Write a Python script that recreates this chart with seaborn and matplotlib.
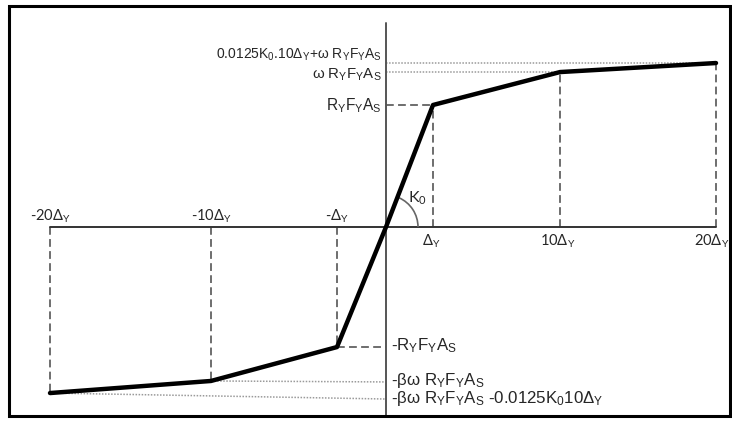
import numpy as np
import pandas as pd
import matplotlib
matplotlib.use("Agg")
import matplotlib.pyplot as plt
import seaborn as sns
from matplotlib.patches import Arc, Rectangle
from matplotlib.transforms import IdentityTransform

# ---------------- data (schematic backbone curve) ----------------
disp = [-20, -10, -1, 0, 1, 10, 20]                    # multiples of Delta_Y
force = [-1.361, -1.262, -0.984, 0.0, 1.0, 1.27, 1.344]  # in units of R_Y F_Y A_S
tick_labels = ["-20Δ$_Y$", "-10Δ$_Y$", "-Δ$_Y$", "", "Δ$_Y$", "10Δ$_Y$", "20Δ$_Y$"]
pos_levels = [1.344, 1.27, 1.0]
pos_level_labels = ["0.0125K$_0$.10Δ$_Y$+ω R$_Y$F$_Y$A$_S$", "ω R$_Y$F$_Y$A$_S$", "R$_Y$F$_Y$A$_S$"]
neg_levels = [-0.984, -1.27, -1.41]
neg_level_labels = ["-R$_Y$F$_Y$A$_S$", "-βω R$_Y$F$_Y$A$_S$", "-βω R$_Y$F$_Y$A$_S$ -0.0125K$_0$10Δ$_Y$"]

sns.set_theme(style="white")
plt.rcParams["font.family"] = ["Liberation Sans", "DejaVu Sans"]
plt.rcParams["mathtext.fontset"] = "custom"
plt.rcParams["mathtext.rm"] = "Liberation Sans"
plt.rcParams["mathtext.it"] = "Liberation Sans"
plt.rcParams["mathtext.default"] = "regular"

W, H, DPI = 732, 426, 100
fig = plt.figure(figsize=(W / DPI, H / DPI), dpi=DPI)
ax = fig.add_axes([0, 0, 1, 1])

# schematic (non-uniform) horizontal scale
knots_d = np.array([-60, -20, -10, -1, 0, 1, 10, 20, 60], dtype=float)
knots_p = np.array([-594, 50, 211, 337, 386, 433, 560, 716, 1340], dtype=float)
fwd = lambda x: np.interp(x, knots_d, knots_p)
inv = lambda p: np.interp(p, knots_p, knots_d)
ax.set_xscale("function", functions=(fwd, inv))
ax.set_xlim(inv(0.0), inv(W))
y0_px, unit_px = 227.0, 122.0
ax.set_ylim(-(H - y0_px) / unit_px, y0_px / unit_px)
ax.axis("off")

axis_col = "#555555"
# axes lines
ax.plot([disp[0], disp[-1]], [0, 0], color="#333333", lw=1.4, zorder=2)
ax.plot([0, 0], [(y0_px - 23) / unit_px, -(416 - y0_px) / unit_px], color=axis_col, lw=1.4, zorder=2)

dash_kw = dict(color="#6e6e6e", lw=1.4, dashes=(4, 2.2), zorder=1)
dot_kw = dict(color="#9a9a9a", lw=1.1, dashes=(1, 1), zorder=1)

# vertical dashed guides
for x, y in zip(disp, force):
    if x != 0:
        ax.plot([x, x], [0, y], **dash_kw)

# horizontal guides
ax.plot([0, disp[4]], [pos_levels[2], force[4]], **dash_kw)
ax.plot([0, disp[5]], [pos_levels[1], force[5]], **dot_kw)
ax.plot([0, disp[6]], [pos_levels[0], force[6]], **dot_kw)
ax.plot([disp[2], 0], [force[2], neg_levels[0]], **dash_kw)
ax.plot([disp[1], 0], [force[1], neg_levels[1]], **dot_kw)
ax.plot([disp[0], 0], [force[0], neg_levels[2]], **dot_kw)

# backbone curve
df = pd.DataFrame({"disp": disp, "force": force})
sns.lineplot(data=df, x="disp", y="force", ax=ax, color="black", lw=3.2,
             sort=False, zorder=5, legend=False)
ax.axis("off")

# tick labels
tick_font = ["Lato", "DejaVu Sans"]
for x, lab in zip(disp, tick_labels):
    if not lab:
        continue
    if x < 0:
        ax.annotate(lab, (x, 0), xytext=(0, 11), textcoords="offset pixels",
                    ha="center", va="center", fontsize=10.5, family=tick_font)
    else:
        dx = -4 if x == disp[-1] else -2
        ax.annotate(lab, (x, 0), xytext=(dx, -14), textcoords="offset pixels",
                    ha="center", va="center", fontsize=10.5, family=tick_font)

# level labels
pos_off = [8, -3, -1]
pos_size = [10.0, 10.8, 11.2]
for lv, lab, dy, fs in zip(pos_levels, pos_level_labels, pos_off, pos_size):
    ax.annotate(lab, (0, lv), xytext=(-4, dy), textcoords="offset pixels",
                ha="right", va="center", fontsize=fs)
for lv, lab in zip(neg_levels, neg_level_labels):
    ax.annotate(lab, (0, lv), xytext=(5, 1), textcoords="offset pixels",
                ha="left", va="center", fontsize=12.2)

# stiffness arc + K0 label
fig.canvas.draw()
ox, oy = ax.transData.transform((0, 0))
ax.add_patch(Arc((ox, oy), 64, 64, theta1=0, theta2=66, transform=IdentityTransform(),
                 color="#666666", lw=1.2, zorder=3))
ax.annotate("K$_0$", (0, 0), xytext=(31, 29), textcoords="offset pixels",
            ha="center", va="center", fontsize=11.5, family=tick_font)

# outer frame
fig.patches.append(Rectangle((9 / W, 1 - 416 / H), 721 / W, 410 / H, fill=False,
                             edgecolor="black", lw=2.2, transform=fig.transFigure, figure=fig))

fig.savefig("out.png", dpi=DPI)
